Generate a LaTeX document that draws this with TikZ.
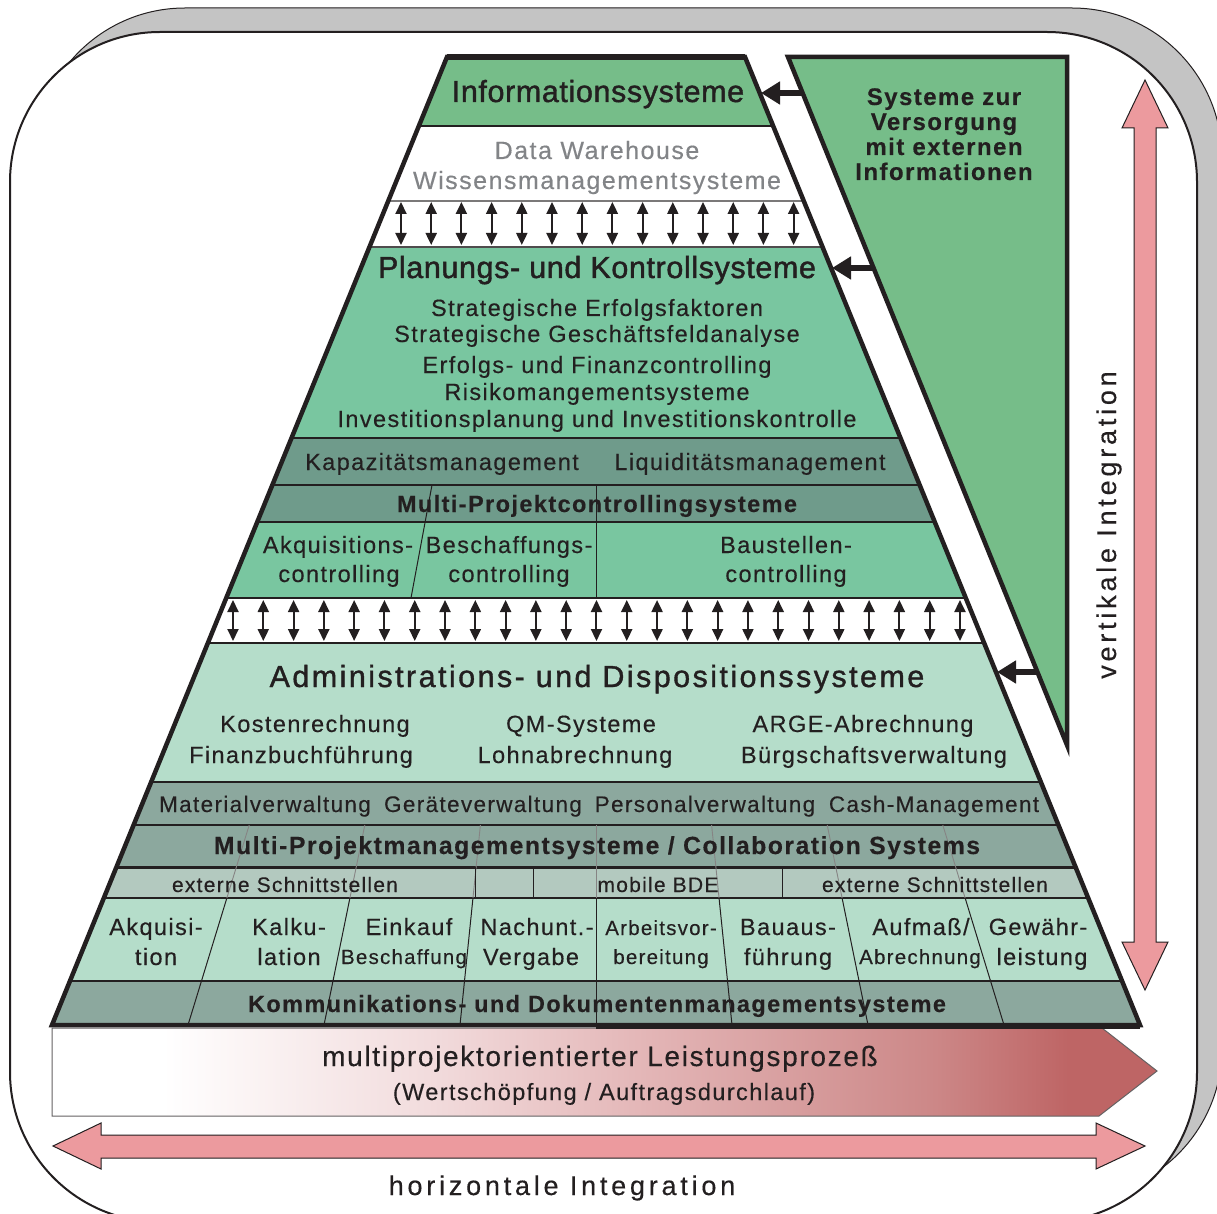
\documentclass[tikz,border=0pt]{standalone}
\usepackage{fontspec}
\setmainfont{Liberation Sans}[LetterSpace=6,FakeBold=0.3]
\newfontfamily\headface{Liberation Sans}[LetterSpace=2,FakeBold=1.4]
\newfontfamily\admface{Liberation Sans}[LetterSpace=8,FakeBold=1.2]
\newfontfamily\wideface{Liberation Sans}[LetterSpace=14,FakeBold=0.3]
\usetikzlibrary{arrows.meta,calc}
\definecolor{ink}{HTML}{231F20}
\definecolor{greytext}{HTML}{828487}
\definecolor{infogreen}{HTML}{76BD89}
\definecolor{plangreen}{HTML}{79C6A0}
\definecolor{darkteal}{HTML}{6F9B8B}
\definecolor{lightgreen}{HTML}{B5DDCA}
\definecolor{greygreen}{HTML}{8CA89E}
\definecolor{lightgreyg}{HTML}{B3C9BF}
\definecolor{pinkarrow}{HTML}{EC9A9E}
\definecolor{framegrey}{HTML}{C4C4C4}
\definecolor{lpa}{HTML}{F2DCDD}
\definecolor{lpb}{HTML}{E3B5B6}
\definecolor{lpc}{HTML}{CC8787}
\definecolor{lpd}{HTML}{BE6565}
\pgfdeclarehorizontalshading{lpshade}{100bp}{color(0bp)=(white); color(30bp)=(white); color(42bp)=(lpa); color(52bp)=(lpb); color(65bp)=(lpc); color(71bp)=(lpd); color(100bp)=(lpd)}
\newcommand{\setfs}[1]{\fontsize{#1}{#1}\selectfont}
\begin{document}
\begin{tikzpicture}[x=1pt,y=-1pt,
  bodyt/.style={inner sep=0pt, anchor=base, text=ink, font={\setfs{23.5}}},
  smallt/.style={bodyt, font={\setfs{20.5}}},
  headt/.style={bodyt, font={\headface\setfs{30.5}}},
  boldt/.style={bodyt, font={\bfseries\setfs{23.5}}},
  greyt/.style={bodyt, text=greytext, font={\setfs{25}}},
  widet/.style={bodyt, font={\wideface\setfs{27}}},
  rowline/.style={draw=ink, line width=1.3pt},
  greyline/.style={draw=ink!55, line width=0.9pt},
  colline/.style={draw=ink, line width=1pt},
  bandarrow/.style={{Triangle[length=12pt,width=11pt]}-{Triangle[length=12pt,width=11pt]}, line width=2pt, draw=ink},
  feedarrow/.style={-{Triangle[length=19pt,width=22pt]}, line width=6pt, draw=ink},
  pinkshape/.style={fill=pinkarrow, draw=ink, line width=1pt},
]
\useasboundingbox (0,0) rectangle (1217,1214);
\clip (0,0) rectangle (1217,1214);

% frame
\draw[fill=framegrey, draw=ink, line width=1pt, rounded corners=150pt] (35,8) rectangle (1222,1198);
\draw[fill=white, draw=ink, line width=2pt, rounded corners=150pt] (10,32) rectangle (1197,1222);

% process arrow
\shadedraw[shading=lpshade, draw=ink!70, line width=1pt] (52,1028) -- (1102,1028) -- (1157,1071) -- (1099,1116) -- (52,1116) -- cycle;

% pyramid rows
\coordinate (tl) at (447,57);
\coordinate (tr) at (745,57);
\coordinate (br) at (1140,1025);
\coordinate (bl) at (52,1025);
\coordinate (apex) at (596,-308);
\begin{scope}
\clip (tl) -- (tr) -- (br) -- (bl) -- cycle;
\fill[infogreen] (0,57) rectangle (1217,126);
\fill[white] (0,126) rectangle (1217,247);
\fill[plangreen] (0,247) rectangle (1217,438);
\fill[darkteal] (0,438) rectangle (1217,522);
\fill[plangreen] (0,522) rectangle (1217,598);
\fill[white] (0,598) rectangle (1217,643);
\fill[lightgreen] (0,643) rectangle (1217,782);
\fill[greygreen] (0,782) rectangle (1217,867);
\fill[lightgreyg] (0,867) rectangle (1217,898);
\fill[lightgreen] (0,898) rectangle (1217,981);
\fill[greygreen] (0,981) rectangle (1217,1025);
\foreach \yy in {126,438,485,522,598,643,782,825,898,981}
  \draw[rowline] (0,\yy) -- (1217,\yy);
\draw[draw=ink!60, line width=1.2pt] (0,201) -- (1217,201);
\draw[draw=ink!80, line width=1.2pt] (0,247) -- (1217,247);
\draw[draw=ink, line width=3pt] (0,867) -- (1217,867);
% controlling dividers
\draw[colline] (432,485) -- (411,598);
\draw[colline] (596,485) -- (596,598);
% lower column lines
\foreach \k in {1,...,7} {
  \coordinate (b\k) at ({52+136*\k},1025);
  \draw[greyline] ($(apex)!0.84997!(b\k)$) -- ($(apex)!0.90473!(b\k)$);
  \draw[colline] ($(apex)!0.90473!(b\k)$) -- (b\k);
}
\draw[colline] (475,867) -- (475,898);
\draw[colline] (533,867) -- (533,898);
\draw[colline] (782,867) -- (782,898);
% band arrows
\foreach \i in {0,...,13}
  \draw[bandarrow] ({401+30.2*\i},202) -- ({401+30.2*\i},245);
\foreach \i in {0,...,24}
  \draw[bandarrow] ({233+30.29*\i},600) -- ({233+30.29*\i},641);
\end{scope}
\draw[draw=ink, line width=3pt] (596,1027.5) -- (1140,1027.5);
\draw[draw=ink, line width=4.5pt] (tl) -- (tr) -- (br) -- (bl) -- cycle;
\draw[draw=ink, line width=6pt] (tl) -- (tr);

% external supply triangle
\draw[fill=infogreen, draw=ink, line width=4.5pt] (788,57) -- (1067,57) -- (1067,745) -- cycle;

% feed arrows
\coordinate (fa1s) at (803,93);  \coordinate (fa1e) at (761,93);
\coordinate (fa2s) at (874,268); \coordinate (fa2e) at (832,268);
\coordinate (fa3s) at (1037,672); \coordinate (fa3e) at (997,672);
\draw[feedarrow] (fa1s) -- (fa1e);
\draw[feedarrow] (fa2s) -- (fa2e);
\draw[feedarrow] (fa3s) -- (fa3e);

% pink integration arrows
\draw[pinkshape] (1145,80) -- (1168,128) -- (1156,128) -- (1156,942) -- (1168,942) -- (1145,990) -- (1122,942) -- (1134,942) -- (1134,128) -- (1122,128) -- cycle;
\draw[pinkshape] (53,1146) -- (101,1123) -- (101,1135) -- (1096,1135) -- (1096,1123) -- (1145,1146) -- (1096,1169) -- (1096,1158) -- (101,1158) -- (101,1169) -- cycle;

% texts
\node[headt] (info) at (598,102) {Informationssysteme};
\node[greyt] (dw) at (597,159) {Data Warehouse};
\node[greyt] (wm) at (597,189) {Wissensmanagementsysteme};
\node[headt] (plan) at (597,278) {Planungs- und Kontrollsysteme};
\node[bodyt] (p1) at (597,316) {Strategische Erfolgsfaktoren};
\node[bodyt] (p2) at (597,342) {Strategische Geschäftsfeldanalyse};
\node[bodyt] (p3) at (597,373) {Erfolgs- und Finanzcontrolling};
\node[bodyt] (p4) at (597,400) {Risikomangementsysteme};
\node[bodyt] (p5) at (597,427) {Investitionsplanung und Investitionskontrolle};
\node[bodyt] (kap) at (442,470) {Kapazitätsmanagement};
\node[bodyt] (liq) at (750,470) {Liquiditätsmanagement};
\node[boldt] (mpc) at (597,512) {Multi-Projektcontrollingsysteme};
\node[bodyt] (ak1) at (338,553) {Akquisitions-};
\node[bodyt] (ak2) at (339,582) {controlling};
\node[bodyt] (be1) at (509,553) {Beschaffungs-};
\node[bodyt] (be2) at (509,582) {controlling};
\node[bodyt] (ba1) at (786,553) {Baustellen-};
\node[bodyt] (ba2) at (786,582) {controlling};
\node[bodyt, font={\admface\setfs{30.5}}] (adm) at (597,687) {Administrations- und Dispositionssysteme};
\node[bodyt] (kr) at (315,732) {Kostenrechnung};
\node[bodyt] (fb) at (301,763) {Finanzbuchführung};
\node[bodyt] (qm) at (581,732) {QM-Systeme};
\node[bodyt] (la) at (575,763) {Lohnabrechnung};
\node[bodyt] (ar) at (863,732) {ARGE-Abrechnung};
\node[bodyt] (bv) at (874,763) {Bürgschaftsverwaltung};
\node[bodyt, font={\setfs{22.5}}] (mv) at (265,812) {Materialverwaltung};
\node[bodyt, font={\setfs{22.5}}] (gv) at (483,812) {Geräteverwaltung};
\node[bodyt, font={\setfs{22.5}}] (pv) at (705,812) {Personalverwaltung};
\node[bodyt, font={\setfs{22.5}}] (cm) at (934,812) {Cash-Management};
\node[boldt, font={\bfseries\setfs{24.8}}] (mpm) at (597,854) {Multi-Projektmanagementsysteme / Collaboration Systems};
\node[bodyt, font={\setfs{21}}] (es1) at (285,892) {externe Schnittstellen};
\node[bodyt, font={\setfs{21}}] (mb) at (658,892) {mobile BDE};
\node[bodyt, font={\setfs{21}}] (es2) at (935,892) {externe Schnittstellen};
\node[bodyt] (c1a) at (156,935) {Akquisi-};
\node[bodyt] (c1b) at (156,965) {tion};
\node[bodyt] (c2a) at (289,935) {Kalku-};
\node[bodyt] (c2b) at (289,965) {lation};
\node[bodyt] (c3a) at (409,935) {Einkauf};
\node[smallt] (c3b) at (404,964) {Beschaffung};
\node[bodyt] (c4a) at (537,935) {Nachunt.-};
\node[bodyt] (c4b) at (531,965) {Vergabe};
\node[smallt] (c5a) at (661,935) {Arbeitsvor-};
\node[smallt] (c5b) at (661,964) {bereitung};
\node[bodyt] (c6a) at (788,935) {Bauaus-};
\node[bodyt] (c6b) at (788,965) {führung};
\node[bodyt] (c7a) at (921,935) {Aufmaß/};
\node[smallt] (c7b) at (920,964) {Abrechnung};
\node[bodyt] (c8a) at (1038,935) {Gewähr-};
\node[bodyt] (c8b) at (1042,965) {leistung};
\node[boldt] (kdm) at (597,1012) {Kommunikations- und Dokumentenmanagementsysteme};
\node[boldt, font={\bfseries\setfs{24}}] (ext1) at (944,105) {Systeme zur};
\node[boldt, font={\bfseries\setfs{24}}] (ext2) at (944,130) {Versorgung};
\node[boldt, font={\bfseries\setfs{24}}] (ext3) at (944,155) {mit externen};
\node[boldt, font={\bfseries\setfs{24}}] (ext4) at (944,180) {Informationen};
\node[bodyt, font={\setfs{28}}] (lp1) at (600,1066) {multiprojektorientierter Leistungsprozeß};
\node[bodyt] (lp2) at (604,1100) {(Wertschöpfung / Auftragsdurchlauf)};
\node[widet] (hi) at (562,1195) {horizontale Integration};
\node[widet, rotate=90] (vi) at (1116,525) {vertikale Integration};
\end{tikzpicture}
\end{document}
